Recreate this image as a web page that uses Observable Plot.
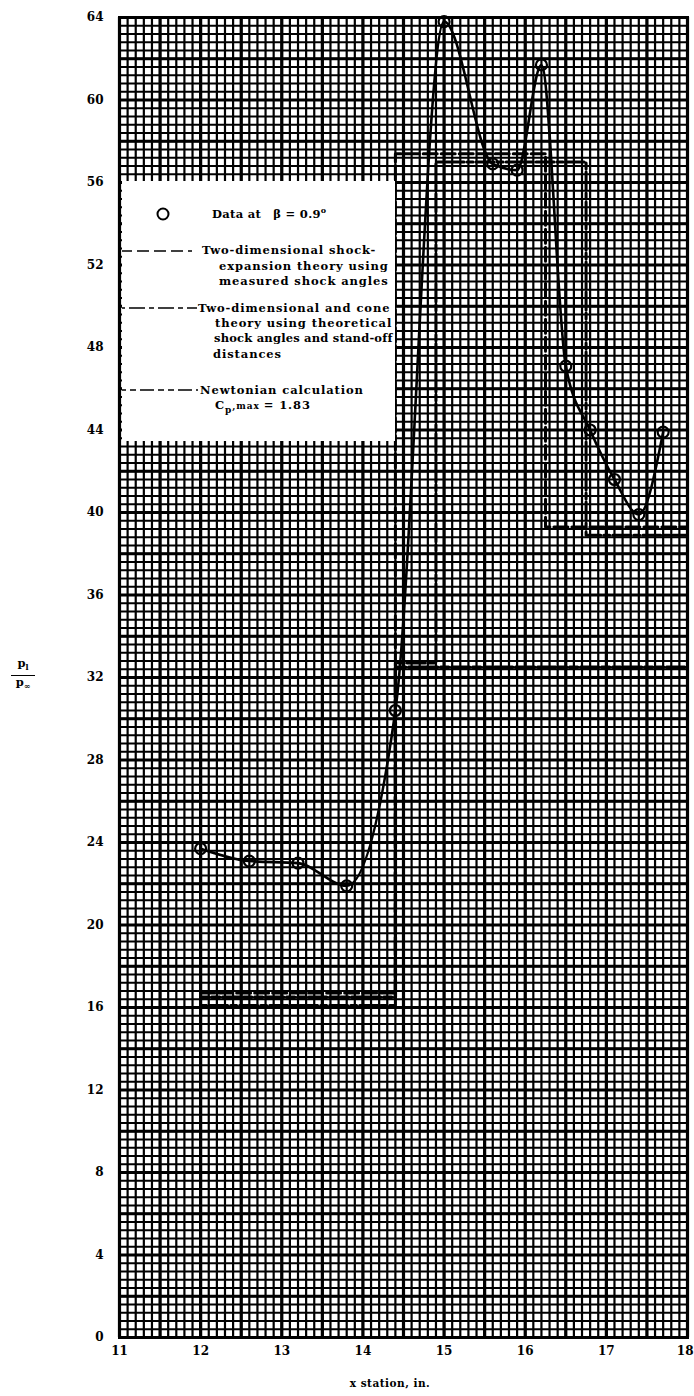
<!DOCTYPE html>
<html>
<head>
<meta charset="utf-8">
<script src="https://cdn.jsdelivr.net/npm/d3@7"></script>
<script src="https://cdn.jsdelivr.net/npm/@observablehq/plot@0.6"></script>
<style>
  html, body { margin: 0; padding: 0; background: white; }
  #wrap { position: relative; width: 694px; height: 1396px; font-family: "DejaVu Serif", serif; font-weight: bold; color: black; }
  #wrap svg { display: block; }
  .ovl { position: absolute; }
</style>
</head>
<body>
<div id="wrap"></div>
<script>
// ---- Data ----
const xStation = [12.0, 12.6, 13.2, 13.8, 14.4, 15.0, 15.6, 15.9, 16.2, 16.5, 16.8, 17.1, 17.4, 17.7];
const pressureRatio = [23.7, 23.1, 23.0, 21.9, 30.4, 63.8, 56.9, 56.6, 61.7, 47.1, 44.0, 41.6, 39.9, 43.9];

// Two-dimensional shock-expansion theory (measured shock angles), step values
const shockExpX = [12.0, 14.4, 16.25, 18.0];
const shockExpY = [16.7, 57.4, 39.3, 39.3];

// Two-dimensional and cone theory (theoretical shock angles, stand-off distances)
const coneX = [12.0, 14.4, 14.9, 16.75, 18.0];
const coneY = [16.1, 32.7, 57.0, 38.9, 38.9];

// Newtonian calculation, Cp,max = 1.83
const newtonX = [12.0, 14.4, 18.0];
const newtonY = [16.5, 32.5, 32.5];

const xTicks = [11, 12, 13, 14, 15, 16, 17];
const xTickLast = [18];
const yTicks = [0, 4, 8, 12, 16, 20, 24, 28, 32, 36, 40, 44, 48, 52, 56, 60, 64];

// graph-paper rulings
const minorX = d3.range(0, 71).map(i => 11 + i * 0.1);
const majorX = d3.range(0, 15).map(i => 11 + i * 0.5);
const minorY = d3.range(0, 161).map(i => i * 0.4);
const majorY = d3.range(0, 33).map(i => i * 2);

const toRows = (xs, ys) => xs.map((x, i) => ({x, y: ys[i]}));
const data = toRows(xStation, pressureRatio);
const shockExp = toRows(shockExpX, shockExpY);
const cone = toRows(coneX, coneY);
const newton = toRows(newtonX, newtonY);

const plot = Plot.plot({
  width: 694,
  height: 1396,
  marginLeft: 119,
  marginRight: 7,
  marginTop: 17,
  marginBottom: 59,
  style: {fontFamily: "DejaVu Serif", fontWeight: "bold", fontSize: "11px", background: "white", color: "black"},
  x: {domain: [11, 18]},
  y: {domain: [0, 64]},
  marks: [
    Plot.ruleX(minorX, {stroke: "black", strokeWidth: 2.2}),
    Plot.ruleY(minorY, {stroke: "black", strokeWidth: 2.2}),
    Plot.ruleX(majorX, {stroke: "black", strokeWidth: 3.2}),
    Plot.ruleY(majorY, {stroke: "black", strokeWidth: 3.2}),
    Plot.line(newton, {x: "x", y: "y", curve: "step-after", stroke: "black", strokeWidth: 3.4, strokeDasharray: "8,3,8,3,18,3"}),
    Plot.line(cone, {x: "x", y: "y", curve: "step-after", stroke: "black", strokeWidth: 3, strokeDasharray: "6,3,18,3"}),
    Plot.line(shockExp, {x: "x", y: "y", curve: "step-after", stroke: "black", strokeWidth: 3, strokeDasharray: "14,4"}),
    Plot.line(data, {x: "x", y: "y", curve: "monotone-x", stroke: "black", strokeWidth: 2.6}),
    Plot.dot(data, {x: "x", y: "y", r: 5.5, stroke: "black", strokeWidth: 2.2, fill: "none"}),
    Plot.frame({stroke: "black", strokeWidth: 3}),
    Plot.axisX({ticks: xTicks, tickFormat: "d", tickSize: 0, tickPadding: 9, label: null, fontSize: 12}),
    Plot.axisX({ticks: xTickLast, tickFormat: "d", tickSize: 0, tickPadding: 9, label: null, fontSize: 12, textAnchor: "end", dx: 6}),
    Plot.axisY({ticks: yTicks, tickFormat: "d", tickSize: 0, tickPadding: 16, label: null, fontSize: 12})
  ]
});

const wrap = document.getElementById("wrap");
wrap.appendChild(plot);

// Legend box (white panel over the graph paper)
const legend = document.createElement("div");
legend.className = "ovl";
legend.style.cssText = "left:122px; top:181px; width:273px; height:260px; background:white;";
legend.innerHTML = `
<svg width="273" height="260" style="font-family:'DejaVu Serif',serif; font-weight:bold; font-size:11.5px; letter-spacing:0.9px;">
  <circle cx="41" cy="33" r="5.5" fill="none" stroke="black" stroke-width="2"/>
  <text x="90" y="37" letter-spacing="0.3">Data at <tspan dx="8">β = 0.9</tspan><tspan dy="-5" font-size="8px">o</tspan></text>

  <line x1="-2" x2="70" y1="70" y2="70" stroke="black" stroke-width="1.5" stroke-dasharray="12,5"/>
  <text x="80" y="73">Two-dimensional shock-</text>
  <text x="97" y="89">expansion theory using</text>
  <text x="97" y="104">measured shock angles</text>

  <line x1="-2" x2="75" y1="127" y2="127" stroke="black" stroke-width="1.5" stroke-dasharray="5,4,16,4"/>
  <text x="76" y="131">Two-dimensional and cone</text>
  <text x="93" y="146">theory using theoretical</text>
  <text x="92" y="161" letter-spacing="0.2">shock angles and stand-off</text>
  <text x="91" y="177">distances</text>

  <line x1="-2" x2="76" y1="209" y2="209" stroke="black" stroke-width="1.5" stroke-dasharray="6,4,6,4,14,4"/>
  <text x="78" y="213">Newtonian calculation</text>
  <text x="93" y="228">C<tspan dy="4" font-size="9px">p</tspan><tspan dy="-4" font-size="9px">,max</tspan><tspan dx="4">= 1.83</tspan></text>
</svg>`;
wrap.appendChild(legend);

// y-axis label: p_l / p_inf
const ylab = document.createElement("div");
ylab.className = "ovl";
ylab.style.cssText = "left:11px; top:657px; width:24px; font-size:11.5px; text-align:center; line-height:13px;";
ylab.innerHTML = `<div style="border-bottom:1.5px solid black; padding-bottom:1px;">p<sub style="font-size:8px">l</sub></div><div>p<sub style="font-size:8px">∞</sub></div>`;
wrap.appendChild(ylab);

// x-axis label
const xlab = document.createElement("div");
xlab.className = "ovl";
xlab.style.cssText = "left:290px; top:1377px; width:200px; text-align:center; font-size:10.5px; letter-spacing:0.5px;";
xlab.textContent = "x  station, in.";
wrap.appendChild(xlab);
</script>
</body>
</html>
